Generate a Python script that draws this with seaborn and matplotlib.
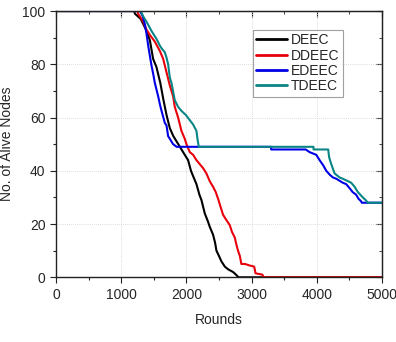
import pandas as pd
import seaborn as sns
import matplotlib.pyplot as plt
from matplotlib.ticker import MultipleLocator

# alive nodes per round
deec_r = [0, 1200, 1210, 1300, 1380, 1440, 1490, 1540, 1600, 1645, 1695, 1746, 1800, 1850, 1900,
          1975, 2026, 2070, 2103, 2154, 2200, 2231, 2282, 2330, 2358, 2409, 2440, 2461, 2500,
          2537, 2590, 2640, 2715, 2760, 2800, 5000]
deec_n = [100, 100, 99, 97, 93, 89, 82, 79, 73, 67, 61, 56, 53, 51, 49,
          46, 44, 40, 38, 35, 31, 29, 24, 21, 19, 16, 13, 10, 8,
          6, 4, 3, 2, 1, 0, 0]

ddeec_r = [0, 1250, 1260, 1337, 1388, 1440, 1516, 1593, 1644, 1695, 1746, 1796, 1822, 1873,
           1924, 1975, 2001, 2052, 2103, 2154, 2205, 2256, 2307, 2360, 2409, 2450, 2486, 2530,
           2562, 2600, 2665, 2700, 2741, 2770, 2792, 2820, 2843, 2900, 2960, 3040, 3060, 3165,
           3185, 5000]
ddeec_n = [100, 100, 99, 96, 93, 91, 88.5, 85, 82, 77, 72, 68, 64, 60,
           55, 52, 50, 47, 46, 44, 42.5, 41, 39, 36, 34, 32, 29.5, 26,
           23.5, 22, 19.6, 17, 15, 12, 10, 8, 5, 5, 4.5, 4, 1.5, 1,
           0, 0]

edeec_r = [0, 1290, 1330, 1363, 1388, 1414, 1465, 1490, 1516, 1567, 1593, 1619, 1669, 1695,
           1720, 1746, 1796, 1850, 3300, 3300, 3830, 3890, 3992, 4043, 4100, 4145, 4200, 4247,
           4300, 4400, 4450, 4502, 4550, 4604, 4640, 4681, 4690, 5000]
edeec_n = [100, 100, 98, 95, 91.5, 87, 79.5, 76.5, 73, 68, 65, 62.5, 58, 57,
           53, 52, 50, 49, 49, 48, 48, 47, 46, 44, 42, 40, 38.5, 37.5,
           37, 35.5, 35, 33.5, 32, 31, 29.5, 28.5, 28, 28]

tdeec_r = [0, 1300, 1337, 1388, 1465, 1542, 1593, 1619, 1669, 1695, 1720, 1746, 1771, 1822,
           1873, 1924, 1990, 2052, 2100, 2154, 2170, 2190, 3950, 3950, 4175, 4190, 4222, 4273,
           4350, 4400, 4528, 4580, 4630, 4706, 4750, 4783, 5000]
tdeec_n = [100, 100, 98, 96, 92.5, 89.5, 87, 86, 84.5, 82.5, 80, 75, 73, 66.5,
           64, 62.5, 61, 59, 57.5, 55, 52, 49, 49, 48, 48, 45, 42.5, 39,
           37.5, 37, 35.5, 34, 32, 30, 29, 28, 28]

series = [("DEEC", deec_r, deec_n), ("DDEEC", ddeec_r, ddeec_n),
          ("EDEEC", edeec_r, edeec_n), ("TDEEC", tdeec_r, tdeec_n)]
colors = {"DEEC": "#000000", "DDEEC": "#e8000b", "EDEEC": "#0000e6", "TDEEC": "#0a8585"}

df = pd.concat([pd.DataFrame({"Rounds": r, "Nodes": n, "Protocol": name})
                for name, r, n in series], ignore_index=True)

sns.set_style("ticks")
plt.rcParams["font.family"] = ["Liberation Sans", "DejaVu Sans"]

fig = plt.figure(figsize=(3.96, 3.42), dpi=100)
ax = fig.add_axes([0.1414, 0.1892, 0.8232, 0.7786])

sns.lineplot(data=df, x="Rounds", y="Nodes", hue="Protocol", palette=colors,
             estimator=None, sort=False, units="Protocol", linewidth=1.5, ax=ax)

ax.set_xlim(0, 5000)
ax.set_ylim(0, 100)
ax.xaxis.set_major_locator(MultipleLocator(1000))
ax.xaxis.set_minor_locator(MultipleLocator(500))
ax.yaxis.set_major_locator(MultipleLocator(20))
ax.yaxis.set_minor_locator(MultipleLocator(10))
ax.grid(True, which="major", color="#d0d0d0", linestyle=(0, (1, 1.5)), linewidth=0.6)
ax.tick_params(which="both", direction="out", labelsize=10, color="#222222", width=0.8)
ax.tick_params(which="major", length=4)
ax.tick_params(which="minor", length=2.5)
for s in ax.spines.values():
    s.set_color("#222222")
    s.set_linewidth(1.0)

# inward ticks on the top and right edges
top = ax.secondary_xaxis("top")
top.xaxis.set_major_locator(MultipleLocator(1000))
top.xaxis.set_minor_locator(MultipleLocator(500))
top.tick_params(which="both", direction="in", labeltop=False, color="#222222")
top.tick_params(which="major", length=4)
top.tick_params(which="minor", length=2.5)
right = ax.secondary_yaxis("right")
right.yaxis.set_major_locator(MultipleLocator(20))
right.yaxis.set_minor_locator(MultipleLocator(10))
right.tick_params(which="both", direction="in", labelright=False, color="#222222")
right.tick_params(which="major", length=4)
right.tick_params(which="minor", length=2.5)

ax.set_xlabel("Rounds", fontsize=10, labelpad=8)
ax.set_ylabel("No. of Alive Nodes", fontsize=10, labelpad=6)

leg = ax.legend(loc="upper left", bbox_to_anchor=(0.603, 0.93), fontsize=10, frameon=True,
                fancybox=False, edgecolor="#888888", handlelength=2.2, labelspacing=0.1,
                borderpad=0.25, handletextpad=0.3, borderaxespad=0)
leg.get_frame().set_linewidth(0.8)
for line in leg.get_lines():
    line.set_linewidth(2)

fig.savefig("out.png", dpi=100)
